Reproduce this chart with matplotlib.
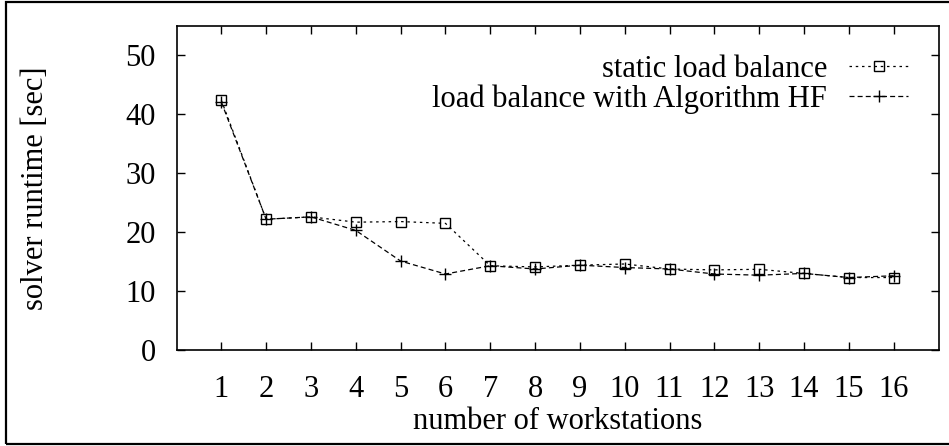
import matplotlib
matplotlib.use("Agg")
import matplotlib.pyplot as plt
from matplotlib.patches import Rectangle

workstations = list(range(1, 17))
static_lb = [42.4, 22.2, 22.6, 21.7, 21.8, 21.5, 14.3, 14.1, 14.4, 14.6, 13.75, 13.6, 13.7, 13.0, 12.3, 12.3]
hf_lb = [42.1, 22.2, 22.6, 20.3, 15.1, 12.9, 14.3, 13.75, 14.4, 14.0, 13.75, 12.9, 12.7, 13.0, 12.3, 12.6]
yticks = [0, 10, 20, 30, 40, 50]
labels = ["static load balance", "load balance with Algorithm HF"]

plt.rcParams['font.family'] = ['Liberation Serif', 'DejaVu Serif']
FS = 22

W, H = 949, 446
fig = plt.figure(figsize=(W / 100, H / 100), dpi=100)
L, R, T, B = 176.5, 938.5, 26, 350
ax = fig.add_axes([L / W, (H - B) / H, (R - L) / W, (B - T) / H])

ax.plot(workstations, static_lb, color='black', lw=0.9, linestyle=(0, (2, 3)),
        marker='s', markersize=6.5, markerfacecolor='none', markeredgecolor='black',
        markeredgewidth=1.0, label=labels[0])
ax.plot(workstations, hf_lb, color='black', lw=0.9, linestyle=(0, (4, 2.5)),
        marker='+', markersize=9, markeredgecolor='black', markeredgewidth=1.0,
        label=labels[1])

ax.set_xlim(0, 17)
ax.set_ylim(0, 55)
ax.set_xticks(workstations)
ax.set_yticks(yticks)
ax.tick_params(direction='in', length=6, width=1, top=True, right=True,
               labelsize=FS)
ax.tick_params(axis='x', pad=18)
ax.tick_params(axis='y', pad=15)
for s in ax.spines.values():
    s.set_linewidth(1.2)

ax.set_xlabel("number of workstations", fontsize=FS)
ax.xaxis.set_label_coords(0.5, -0.175)
ax.set_ylabel("solver runtime [sec]", fontsize=FS)
ax.yaxis.set_label_coords(-0.166, 0.5)

leg = ax.legend(loc='upper right', bbox_to_anchor=(0.96, 0.91), markerfirst=False,
                frameon=False, fontsize=FS, handlelength=1.93, handletextpad=0.72,
                labelspacing=0.0, borderpad=0, borderaxespad=0)

fig.patches.append(Rectangle((6 / W, 2.5 / H), 960 / W, 442 / H, transform=fig.transFigure,
                             fill=False, edgecolor='black', lw=1.6))

fig.savefig("out.png", dpi=100)
